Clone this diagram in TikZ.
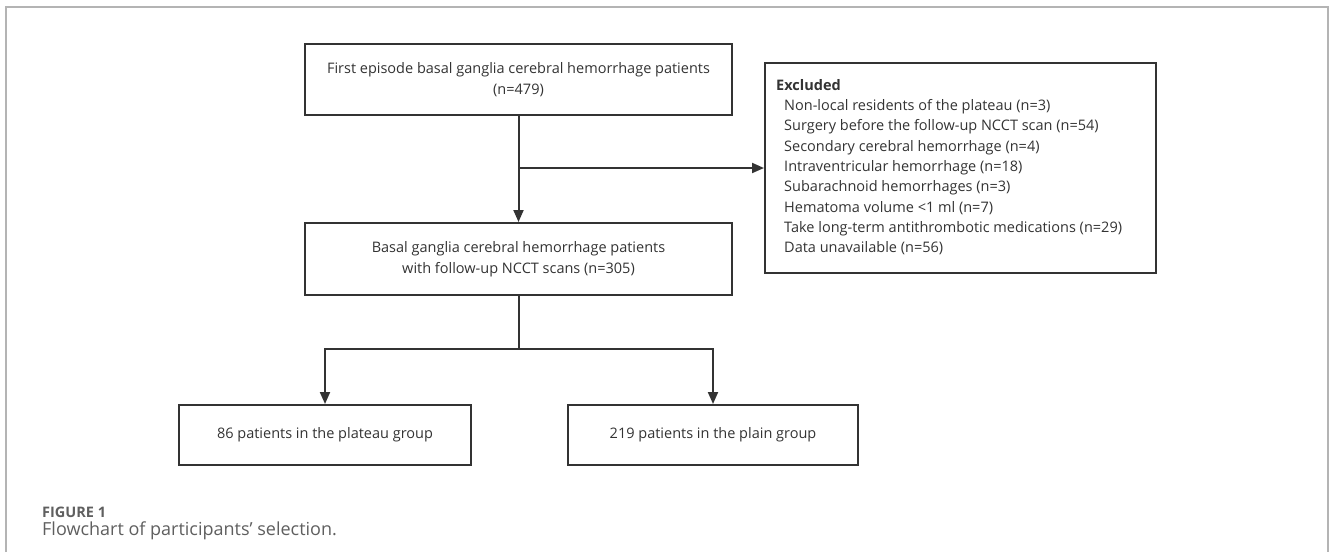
\documentclass[tikz,border=0pt]{standalone}
\usepackage{fontspec}
\setmainfont{Open Sans}
\usetikzlibrary{arrows.meta}
\definecolor{framec}{HTML}{B4B4B4}
\definecolor{ink}{HTML}{333333}
\definecolor{capc}{HTML}{5F5F5F}
\begin{document}
\begin{tikzpicture}[x=1pt,y=-1pt,
  box/.style={draw=ink, line width=2pt, inner sep=0pt, align=center,
    font=\fontsize{14.5}{21}\selectfont, text=ink},
  conn/.style={draw=ink, line width=2pt},
  arr/.style={conn, -{Triangle[length=12pt,width=10pt]}},
  lbl/.style={inner sep=0pt, text=ink, align=left, font=\fontsize{14.5}{20.3}\selectfont},
]
\useasboundingbox (0,0) rectangle (1330,552);
\draw[framec, line width=2pt] (6,552) -- (6,7) -- (1328,7) -- (1328,552);

\node[box, minimum width=427pt, minimum height=71pt] (first) at (518.5,79.5)
  {First episode basal ganglia cerebral hemorrhage patients\\(n=479)};
\node[box, minimum width=427pt, minimum height=72pt] (basal) at (518.5,259)
  {Basal ganglia cerebral hemorrhage patients\\with follow-up NCCT scans (n=305)};
\node[box, minimum width=391pt, minimum height=210pt, anchor=north west] (excl) at (764,62) {};
\node[lbl, anchor=north west] (excltext) at (776,79)
  {\textbf{Excluded}\\
   \hspace*{8pt}Non-local residents of the plateau (n=3)\\
   \hspace*{8pt}Surgery before the follow-up NCCT scan (n=54)\\
   \hspace*{8pt}Secondary cerebral hemorrhage (n=4)\\
   \hspace*{8pt}Intraventricular hemorrhage (n=18)\\
   \hspace*{8pt}Subarachnoid hemorrhages (n=3)\\
   \hspace*{8pt}Hematoma volume <1 ml (n=7)\\
   \hspace*{8pt}Take long-term antithrombotic medications (n=29)\\
   \hspace*{8pt}Data unavailable (n=56)};
\node[box, minimum width=292pt, minimum height=60pt] (plateau) at (325,435)
  {86 patients in the plateau group};
\node[box, minimum width=290pt, minimum height=60pt] (plain) at (713,435)
  {219 patients in the plain group};

\coordinate (branch) at (518.5,168);
\coordinate (split) at (518.5,349);
\draw[arr] (first.south) -- (basal.north);
\draw[arr] (branch) -- (excl.west |- branch);
\draw[conn] (basal.south) -- (split);
\draw[arr] (split) -| (plateau.north);
\draw[arr] (split) -| (plain.north);

\node[anchor=base west, inner sep=0pt, text=capc, font=\fontsize{14.5}{16}\selectfont\bfseries] (fig) at (42,517) {FIGURE 1};
\node[anchor=base west, inner sep=0pt, text=capc, font=\fontsize{18}{20}\selectfont] (cap) at (42,535) {Flowchart of participants’ selection.};
\end{tikzpicture}
\end{document}
